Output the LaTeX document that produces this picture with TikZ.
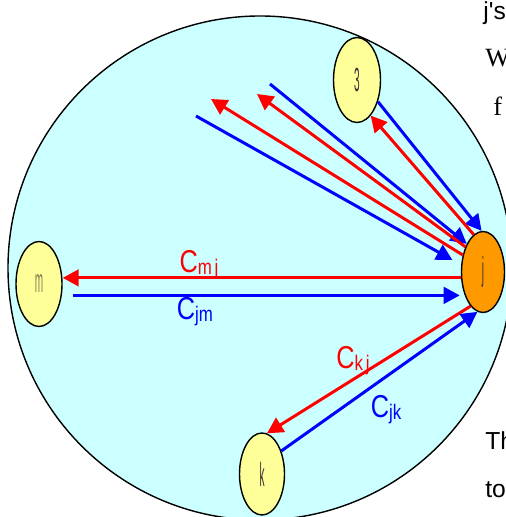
\documentclass[tikz,border=0pt]{standalone}
\usepackage{fontspec}
\setmainfont{Liberation Serif}
\setsansfont{Liberation Sans}
\usetikzlibrary{arrows.meta,positioning,shapes.geometric}
\definecolor{zonecyan}{RGB}{204,255,255}
\definecolor{peeryellow}{RGB}{255,255,153}
\definecolor{selforange}{RGB}{255,153,0}
\definecolor{costred}{RGB}{255,0,0}
\definecolor{costblue}{RGB}{0,0,255}
\definecolor{labelolive}{RGB}{130,130,80}
\newcommand{\peerlbl}[1]{\scalebox{0.3}[1]{\sffamily\fontsize{19}{19}\selectfont #1}}
\newcommand{\costtxt}[1]{\scalebox{0.8}[1]{\fontsize{18}{18}\selectfont C\fontsize{12}{12}\selectfont\raisebox{-1pt}{#1}}}
\tikzset{
  zone/.style={circle, draw=black, line width=0.8pt, fill=zonecyan, inner sep=0pt, minimum size=10.08cm},
  peer/.style={ellipse, draw=black, line width=0.8pt, fill=peeryellow, text=black!80, inner sep=0pt, minimum width=0.92cm, minimum height=1.7cm},
  self/.style={peer, fill=selforange, minimum width=0.86cm, minimum height=1.62cm},
  ask/.style={line width=1.7pt, costblue, -{Triangle[length=3.2mm,width=3.3mm]}},
  reply/.style={line width=1.7pt, costred, -{Triangle[length=3.2mm,width=3.3mm]}},
  cost/.style={font=\sffamily, inner sep=0pt},
  pagetxt/.style={anchor=base west, inner sep=0pt, font=\sffamily\fontsize{14}{16}\selectfont}
}
\begin{document}
\begin{tikzpicture}
  \useasboundingbox (0,0) rectangle (10.1,10.34);
  % Zone
  \node[zone] (zone) at (5.2,4.98) {};

  % Peers
  \node[peer] (m) at (0.78,4.66) {\peerlbl{\color{labelolive}m}};
  \node[peer, minimum width=0.94cm] (three) at (7.14,8.74) {\peerlbl{3}};
  \node[peer, minimum width=0.9cm, minimum height=1.64cm] (k) at (5.24,0.86) {\peerlbl{k}};
  \node[self] (j) at (9.66,4.90) {\peerlbl{j}};

  % Free ends of the fan
  \coordinate (f1) at (5.40,8.66);
  \coordinate (f2) at (5.14,8.46);
  \coordinate (f3) at (4.22,8.36);
  \coordinate (f4) at (3.92,8.02);

  % Fan towards j
  \draw[ask] (three.314) -- (j.92);
  \draw[reply] (j.104) -- (three.291);
  \draw[ask] (f1) -- (j.120);
  \draw[reply] (j.125) -- (f2);
  \draw[reply] (j.140) -- (f3);
  \draw[ask, shorten >=2mm] (f4) -- (j.162);

  % m and j
  \draw[reply] (j.195) -- (m.east |- j.195);
  \draw[ask, shorten <=2mm, shorten >=1mm] (m.east |- j.232) -- (j.232);

  % k and j
  \draw[reply] (j.250) -- (k.83);
  \draw[ask] (k.50) -- (j.262);

  % Costs
  \node[cost, costred] (cmj) at (3.98,5.04) {\costtxt{m\,j}};
  \node[cost, costblue] (cjm) at (3.90,4.10) {\costtxt{jm}};
  \node[cost, costred] (ckj) at (7.06,3.12) {\costtxt{k\,j}};
  \node[cost, costblue] (cjk) at (7.72,2.14) {\costtxt{jk}};

  % Page text
  \node[pagetxt] (t1) at (9.66,9.94) {j\textquotesingle s};
  \node[pagetxt, font=\rmfamily\fontsize{15}{17}\selectfont] (t2) at (9.70,9.0) {W};
  \node[pagetxt, font=\rmfamily\fontsize{15}{17}\selectfont] (t3) at (9.86,8.02) {f};
  \node[pagetxt] (t4) at (9.70,1.34) {Th};
  \node[pagetxt] (t5) at (9.70,0.38) {to};
\end{tikzpicture}
\end{document}
